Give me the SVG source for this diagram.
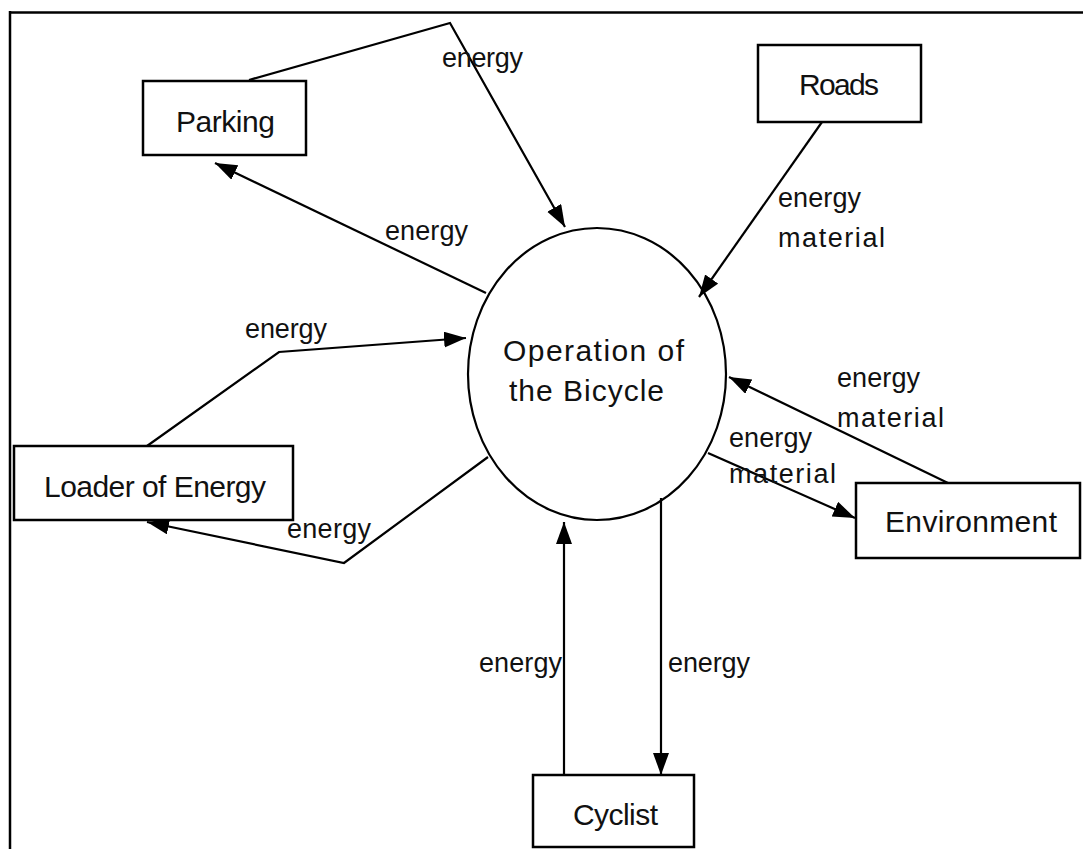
<svg xmlns="http://www.w3.org/2000/svg" width="1083" height="849" viewBox="0 0 1083 849">
<style>
.box{fill:#fff;stroke:#000;stroke-width:2.5}
.node{font-family:"Liberation Sans",Arial,sans-serif;font-size:30px;fill:#111}
.lbl{font-family:"Liberation Sans",Arial,sans-serif;font-size:27px;fill:#111}
.conn{fill:none;stroke:#000;stroke-width:2.2}
</style>
<defs>
<marker id="arr" markerUnits="userSpaceOnUse" markerWidth="24" markerHeight="18" refX="22" refY="8" orient="auto">
<path d="M0,0 L22,8 L0,16 z" fill="#000"/>
</marker>
</defs>
<rect width="1083" height="849" fill="#fff"/>
<g id="frame">
<line x1="9" y1="12.5" x2="1083" y2="12.5" stroke="#000" stroke-width="2.5"/>
<line x1="10" y1="11" x2="10" y2="849" stroke="#000" stroke-width="2.5"/>
</g>
<g id="connectors">
<polyline class="conn" points="249,80 450,23 565,227" marker-end="url(#arr)"/>
<line class="conn" x1="486" y1="293" x2="215" y2="163" marker-end="url(#arr)"/>
<line class="conn" x1="822" y1="122" x2="699" y2="297" marker-end="url(#arr)"/>
<polyline class="conn" points="147,446 279,352 466,338" marker-end="url(#arr)"/>
<polyline class="conn" points="488,457 344,563 147,522" marker-end="url(#arr)"/>
<line class="conn" x1="948" y1="483" x2="729" y2="377" marker-end="url(#arr)"/>
<line class="conn" x1="708" y1="453" x2="855" y2="518" marker-end="url(#arr)"/>
<line class="conn" x1="564" y1="775" x2="564" y2="522" marker-end="url(#arr)"/>
<line class="conn" x1="661" y1="498" x2="661" y2="775" marker-end="url(#arr)"/>
<text class="lbl" x="442" y="67" textLength="81">energy</text>
<text class="lbl" x="385" y="240" textLength="83">energy</text>
<text class="lbl" x="778" y="207" textLength="83">energy</text>
<text class="lbl" x="778" y="247" textLength="107">material</text>
<text class="lbl" x="245" y="338" textLength="82">energy</text>
<text class="lbl" x="287" y="538" textLength="84">energy</text>
<text class="lbl" x="837" y="387" textLength="83">energy</text>
<text class="lbl" x="837" y="427" textLength="107">material</text>
<text class="lbl" x="729" y="447" textLength="83">energy</text>
<text class="lbl" x="729" y="483" textLength="107">material</text>
<text class="lbl" x="479" y="672" textLength="83">energy</text>
<text class="lbl" x="668" y="672" textLength="82">energy</text>
</g>
<g id="process">
<ellipse cx="597" cy="374" rx="129" ry="146" fill="none" stroke="#000" stroke-width="2.2"/>
<text class="node" x="503" y="361" textLength="181">Operation of</text>
<text class="node" x="509" y="401" textLength="155">the Bicycle</text>
</g>
<g id="parking">
<rect class="box" x="143" y="81" width="163" height="74"/>
<text class="node" x="176" y="132" textLength="99">Parking</text>
</g>
<g id="roads">
<rect class="box" x="758" y="45" width="163" height="77"/>
<text class="node" x="799" y="95" textLength="80">Roads</text>
</g>
<g id="loader">
<rect class="box" x="14" y="446" width="279" height="74"/>
<text class="node" x="44" y="497" textLength="222">Loader of Energy</text>
</g>
<g id="environment">
<rect class="box" x="856" y="483" width="224" height="75"/>
<text class="node" x="885" y="532" textLength="172">Environment</text>
</g>
<g id="cyclist">
<rect class="box" x="533" y="775" width="161" height="72"/>
<text class="node" x="573" y="825" textLength="85">Cyclist</text>
</g>
</svg>
